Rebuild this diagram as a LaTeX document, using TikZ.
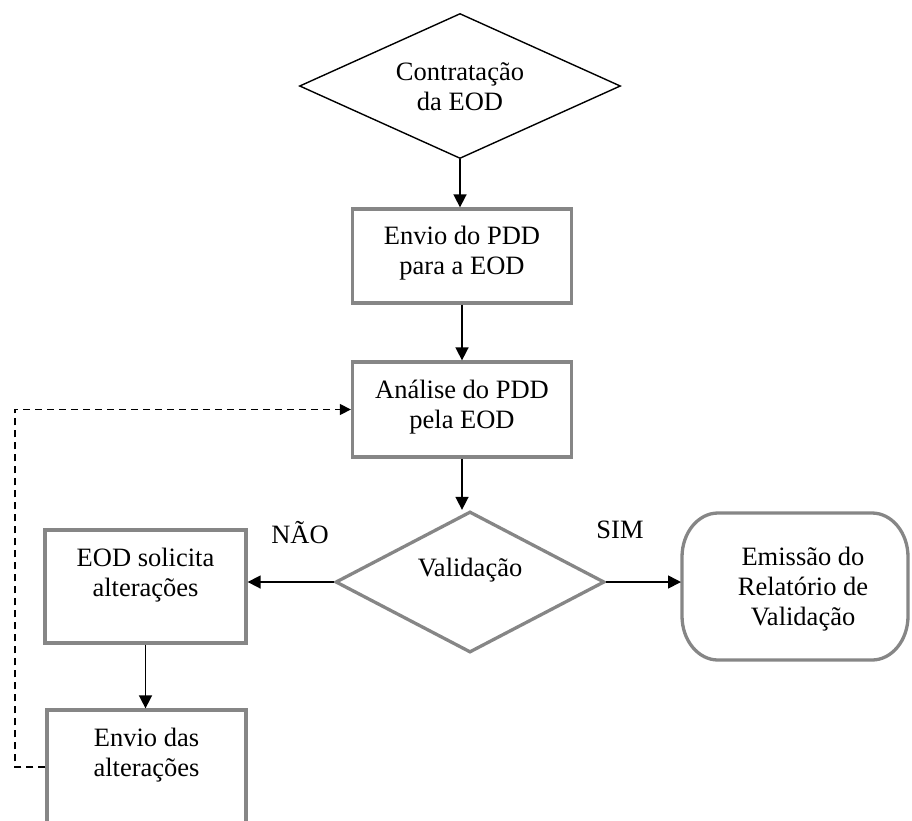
\documentclass[tikz,border=0pt]{standalone}
\usepackage{fontspec}
\setmainfont{Liberation Serif}
\usetikzlibrary{shapes.geometric,arrows.meta}
\begin{document}
\begin{tikzpicture}[x=1pt,y=-1pt,
  every node/.style={font=\fontsize{26.5}{30}\selectfont, align=center, inner sep=0pt},
  graybox/.style={draw=gray!95, line width=3.3pt, rectangle},
  graydia/.style={draw=gray!95, line width=3.3pt, diamond},
  flow/.style={line width=1.6pt, -{Triangle[length=13pt,width=13pt]}},
  back/.style={line width=1.4pt, dash pattern=on 7pt off 5pt, -{Triangle[length=11pt,width=11pt]}},
  txt/.style={}]
\useasboundingbox (0,0) rectangle (912,820);

% start decision
\node[draw, line width=1.4pt, diamond, minimum width=321pt, minimum height=145pt] (start) at (460,86) {};
\node[txt] (starttxt) at (460,87) {Contratação\\da EOD};

% process boxes
\node[graybox, minimum width=219pt, minimum height=94pt] (send) at (462,256) {};
\node[txt] (sendtxt) at (462,253) {Envio do PDD\\para a EOD};

\node[graybox, minimum width=219pt, minimum height=95pt] (review) at (462,409.5) {};
\node[txt] (reviewtxt) at (462,407) {Análise do PDD\\pela EOD};

% validation decision
\node[graydia, minimum width=269pt, minimum height=141pt] (valid) at (470,582) {};
\node[txt] (validtxt) at (470,570) {Validação};

% change request and resubmission
\node[graybox, minimum width=201pt, minimum height=113pt] (request) at (145.5,586.5) {};
\node[txt] (requesttxt) at (145.5,575) {EOD solicita\\alterações};

\node[graybox, minimum width=199pt, minimum height=140pt] (resend) at (146.5,780) {};
\node[txt] (resendtxt) at (146.5,755) {Envio das\\alterações};

% terminal with elliptic corners
\node (report) at (795,586) {};
\draw[draw=gray!95, line width=3.3pt]
  (718,513) -- (872,513)
  arc[start angle=-90, end angle=0, x radius=36pt, y radius=-44pt]
  -- (908,616)
  arc[start angle=0, end angle=90, x radius=36pt, y radius=-44pt]
  -- (718,660)
  arc[start angle=90, end angle=180, x radius=36pt, y radius=-44pt]
  -- (682,557)
  arc[start angle=180, end angle=270, x radius=36pt, y radius=-44pt] -- cycle;
\node[txt] (reporttxt) at (803,589) {Emissão do\\Relatório de\\Validação};

% branch labels
\node (no) at (300,533) {NÃO};
\node (yes) at (620,530) {SIM};

% connectors
\draw[flow] (start.south) -- (start.south |- send.north);
\draw[flow] (send.south) -- (send.south |- review.north);
\draw[flow] (review.south) -- (review.south |- valid.north);
\draw[flow] (valid.west) -- (valid.west -| request.east);
\draw[flow] (valid.east) -- (681,582);
\draw[flow] (request.south) -- (request.south |- resend.north);
\coordinate (loopa) at (15,767);
\coordinate (loopb) at (15,409.5);
\draw[back] (resend.west |- loopa) -- (loopa) -- (loopb) -- (review.west);
\end{tikzpicture}
\end{document}
